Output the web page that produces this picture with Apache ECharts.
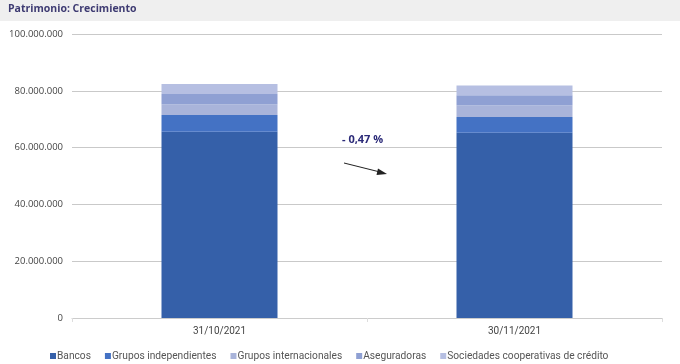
<!DOCTYPE html>
<html>
<head>
<meta charset="utf-8">
<script src="https://cdn.jsdelivr.net/npm/echarts@6/dist/echarts.min.js"></script>
<style>
html,body{margin:0;padding:0;background:#ffffff;}
#c{width:680px;height:364px;}
</style>
</head>
<body>
<div id="c"></div>
<script>
var categories = ['31/10/2021', '30/11/2021'];
var seriesNames = ['Bancos', 'Grupos independientes', 'Grupos internacionales', 'Aseguradoras', 'Sociedades cooperativas de crédito'];
var bancos = [65600000, 65200000];
var gruposIndependientes = [5900000, 5600000];
var gruposInternacionales = [3800000, 4100000];
var aseguradoras = [3600000, 3500000];
var sociedades = [3500000, 3500000];
var yTicks = [0, 20000000, 40000000, 60000000, 80000000, 100000000];
var changeLabel = '- 0,47 %';

var colors = ['#3560a9', '#4472c4', '#a9b4da', '#8fa0d3', '#b6bfe2'];
var values = [bancos, gruposIndependientes, gruposInternacionales, aseguradoras, sociedades];

function fmt(v){ return String(v).replace(/\B(?=(\d{3})+(?!\d))/g, '.'); }

var chart = echarts.init(document.getElementById('c'), null, {renderer:'canvas'});
chart.setOption({
  backgroundColor: '#ffffff',
  animation: false,
  color: colors,
  grid: {left: 72, right: 18, top: 34, bottom: 46},
  legend: {
    left: 45, top: 346,
    itemWidth: 6, itemHeight: 6, itemGap: 14,
    icon: 'rect',
    textStyle: {fontFamily: 'Roboto', fontSize: 10.2, color: '#555555', padding: [0,0,0,-4]},
    data: seriesNames
  },
  xAxis: {
    type: 'category', data: categories,
    axisLine: {lineStyle: {color: '#cccccc'}},
    axisTick: {show: true, length: 4, lineStyle: {color: '#dddddd'}},
    axisLabel: {fontFamily: 'Roboto', fontSize: 10, color: '#444444', margin: 8}
  },
  yAxis: {
    type: 'value', min: yTicks[0], max: yTicks[yTicks.length-1], interval: yTicks[1]-yTicks[0],
    axisLine: {show: false}, axisTick: {show: false},
    splitLine: {lineStyle: {color: '#c9c9c9', width: 1}},
    axisLabel: {fontFamily: 'Open Sans', fontSize: 9.5, color: '#444444', margin: 9, formatter: fmt}
  },
  series: seriesNames.map(function(n, i){
    return {name: n, type: 'bar', stack: 'total', barWidth: 116, data: values[i],
      itemStyle: {color: colors[i]}};
  }),
  graphic: [
    {type: 'rect', left: 0, top: 0, shape: {width: 680, height: 21}, style: {fill: '#efefef'}, z: -1},
    {type: 'text', left: 8, top: 4, style: {text: 'Patrimonio: Crecimiento', font: 'bold 10.5px "Open Sans"', fill: '#3e3b72'}},
    {type: 'text', left: 342, top: 134, style: {text: changeLabel, font: 'bold 11px "Open Sans"', fill: '#2b2a78'}},
    {type: 'line', shape: {x1: 344, y1: 163, x2: 380, y2: 172}, style: {stroke: '#222222', lineWidth: 1}},
    {type: 'polygon', shape: {points: [[387, 174], [378, 168.5], [376.5, 175]]}, style: {fill: '#222222'}}
  ]
});
</script>
</body>
</html>
